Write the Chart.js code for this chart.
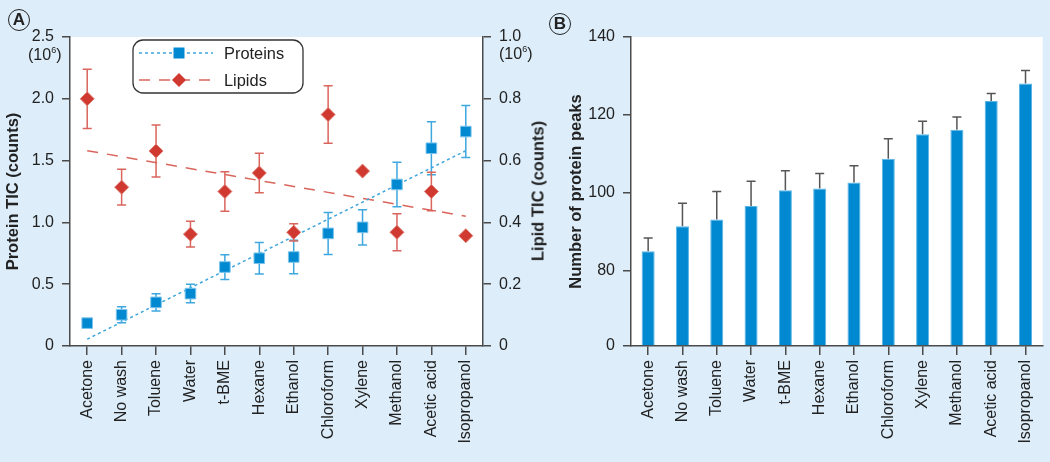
<!DOCTYPE html>
<html>
<head>
<meta charset="utf-8">
<script src="https://cdn.jsdelivr.net/npm/chart.js@4.4.1/dist/chart.umd.min.js"></script>
<style>
  html, body { margin: 0; padding: 0; background: #ddeefa; }
  #wrap { position: relative; width: 1050px; height: 462px; background: #ddeefa; font-family: "Liberation Sans", Arial, sans-serif; color: #222; }
  canvas { position: absolute; top: 0; }
  #ca { left: 0; }
  #cb { left: 555px; }
  .tag { position: absolute; width: 20px; height: 20px; border: 1.6px solid #222; border-radius: 50%;
         font-weight: bold; font-size: 17px; line-height: 20px; text-align: center; }
  .exp { position: absolute; font-size: 16px; }
  .exp sup { font-size: 9px; vertical-align: 7px; }
  #lipidTitle { position: absolute; left: 538px; top: 191px; font-weight: bold; font-size: 16.5px;
                white-space: nowrap; transform: translate(-50%, -50%) rotate(-90deg); }
</style>
</head>
<body>
<div id="wrap">
  <canvas id="ca" width="555" height="462"></canvas>
  <canvas id="cb" width="495" height="462"></canvas>
  <div class="tag" style="left:8px;top:9px;">A</div>
  <div class="tag" style="left:549px;top:13px;">B</div>
  <div class="exp" style="left:28px;top:45px;">(10<sup>6</sup>)</div>
  <div class="exp" style="left:499px;top:44px;">(10<sup>6</sup>)</div>
  <div id="lipidTitle">Lipid TIC (counts)</div>
</div>
<script>
const solvents = ["Acetone", "No wash", "Toluene", "Water", "t-BME", "Hexane", "Ethanol",
  "Chloroform", "Xylene", "Methanol", "Acetic acid", "Isopropanol"];

// panel A, protein TIC in 10^6 counts (left axis)
const proteinTIC = [0.185, 0.253, 0.353, 0.424, 0.639, 0.71, 0.72, 0.911, 0.96, 1.307, 1.60, 1.735];
const proteinErr = [0, 0.065, 0.07, 0.075, 0.10, 0.127, 0.135, 0.17, 0.143, 0.18, 0.215, 0.21];
// panel A, lipid TIC in 10^6 counts (right axis)
const lipidTIC = [0.80, 0.514, 0.631, 0.362, 0.50, 0.56, 0.368, 0.749, 0.566, 0.368, 0.50, 0.357];
const lipidErr = [0.096, 0.058, 0.084, 0.042, 0.064, 0.064, 0.028, 0.093, 0, 0.06, 0.062, 0];
// trend lines, value at first and last solvent
const proteinTrend = [0.055, 1.58];
const lipidTrend = [0.632, 0.42];

const proteinTicks = [0, 0.5, 1.0, 1.5, 2.0, 2.5];
const lipidTicks = [0, 0.2, 0.4, 0.6, 0.8, 1.0];

// panel B
const peaks = [85.1, 91.5, 93.2, 96.7, 100.7, 101.2, 102.7, 108.8, 115.1, 116.2, 123.6, 128.1];
const peaksErr = [3.4, 5.9, 7.2, 6.3, 5.0, 3.8, 4.3, 5.1, 3.3, 3.3, 1.9, 3.3];
const peakTicks = [0, 80, 100, 120, 140];
const peakBreak = 60.8; // broken axis: "0" sits at this value

const BLUE = "#0089d1", BLUE_LIGHT = "#3ea7de", RED = "#d0392f", RED_LIGHT = "#d9655c", AXIS = "#4a4a4a";
const FONT = "'Liberation Sans', Arial, sans-serif";
Chart.defaults.font.family = FONT;
Chart.defaults.color = "#222";

const plotBg = {
  id: "plotBg",
  beforeDraw(chart) {
    const a = chart.chartArea, ctx = chart.ctx;
    ctx.save();
    ctx.fillStyle = "#fff";
    ctx.fillRect(a.left, a.top, a.right - a.left, a.bottom - a.top);
    ctx.restore();
  }
};

const errorBars = {
  id: "errorBars",
  beforeDatasetsDraw(chart, args, opts) {
    const ctx = chart.ctx, xs = chart.scales.x;
    ctx.save();
    opts.sets.forEach(s => {
      const ys = chart.scales[s.axis];
      ctx.strokeStyle = s.color;
      ctx.lineWidth = 1.5;
      s.values.forEach((v, i) => {
        const e = s.errors[i];
        if (!e) return;
        const x = xs.getPixelForValue(i);
        const top = ys.getPixelForValue(v + e);
        const bot = ys.getPixelForValue(s.upOnly ? v : v - e);
        ctx.beginPath();
        ctx.moveTo(x, top); ctx.lineTo(x, bot);
        ctx.moveTo(x - 4.5, top); ctx.lineTo(x + 4.5, top);
        if (!s.upOnly) { ctx.moveTo(x - 4.5, bot); ctx.lineTo(x + 4.5, bot); }
        ctx.stroke();
      });
    });
    ctx.restore();
  }
};

const boxLegend = {
  id: "boxLegend",
  afterDraw(chart) {
    const ctx = chart.ctx, a = chart.chartArea;
    const L = a.left + 63, T = a.top + 3;
    ctx.save();
    ctx.beginPath();
    ctx.roundRect(L, T, 170, 53, 10);
    ctx.fillStyle = "#fff";
    ctx.fill();
    ctx.strokeStyle = "#333";
    ctx.lineWidth = 1.3;
    ctx.stroke();
    const rows = [
      { y: T + 13, text: "Proteins", color: BLUE_LIGHT, dash: [3, 3], mark: "rect", fill: BLUE },
      { y: T + 40, text: "Lipids", color: RED_LIGHT, dash: [11, 9], mark: "diamond", fill: RED }
    ];
    rows.forEach(r => {
      ctx.beginPath();
      ctx.setLineDash(r.dash);
      ctx.strokeStyle = r.color;
      ctx.lineWidth = 1.5;
      ctx.moveTo(L + 6, r.y); ctx.lineTo(L + 80, r.y);
      ctx.stroke();
      ctx.setLineDash([]);
      ctx.fillStyle = r.fill;
      const cx = L + 46;
      ctx.beginPath();
      if (r.mark === "rect") ctx.rect(cx - 5.5, r.y - 5.5, 11, 11);
      else { ctx.moveTo(cx, r.y - 7); ctx.lineTo(cx + 7, r.y); ctx.lineTo(cx, r.y + 7); ctx.lineTo(cx - 7, r.y); ctx.closePath(); }
      ctx.fill();
      ctx.fillStyle = "#222";
      ctx.font = "16.4px " + FONT;
      ctx.textBaseline = "middle";
      ctx.fillText(r.text, L + 91, r.y + 1);
    });
    ctx.restore();
  }
};

const fmt1 = v => (v === 0 ? "0" : Number(v).toFixed(1));
const yAxisCommon = {
  grid: { drawOnChartArea: false, drawTicks: true, tickLength: 8, color: AXIS, lineWidth: 1.5 },
  border: { display: true, color: AXIS, width: 1.5 },
  ticks: { color: "#222", font: { size: 16 }, padding: 8 }
};
const xAxisCommon = {
  type: "category",
  offset: true,
  grid: { drawOnChartArea: false, drawTicks: true, tickLength: 9, color: AXIS, lineWidth: 1.5, offset: false },
  border: { display: true, color: AXIS, width: 1.5 },
  ticks: { color: "#222", font: { size: 16 }, minRotation: 90, maxRotation: 90, padding: 5, autoSkip: false },
  afterFit: s => { s.height = 116; }
};

new Chart(document.getElementById("ca"), {
  type: "line",
  data: {
    labels: solvents,
    datasets: [
      { label: "Proteins", data: proteinTIC, yAxisID: "y", showLine: false, order: 0,
        pointStyle: "rect", pointRadius: 7.5, backgroundColor: BLUE, borderColor: "#7cc4ec", borderWidth: 1 },
      { label: "Lipids", data: lipidTIC, yAxisID: "y1", showLine: false, order: 0,
        pointStyle: "rectRot", pointRadius: 7, backgroundColor: RED, borderColor: "#e07d75", borderWidth: 1 },
      { label: "Protein trend", data: [{ x: solvents[0], y: proteinTrend[0] }, { x: solvents[solvents.length - 1], y: proteinTrend[1] }],
        yAxisID: "y", order: 1, pointRadius: 0, borderColor: BLUE_LIGHT, borderWidth: 1.5, borderDash: [3, 3] },
      { label: "Lipid trend", data: [{ x: solvents[0], y: lipidTrend[0] }, { x: solvents[solvents.length - 1], y: lipidTrend[1] }],
        yAxisID: "y1", order: 1, pointRadius: 0, borderColor: RED_LIGHT, borderWidth: 1.5, borderDash: [11, 9] }
    ]
  },
  options: {
    responsive: false,
    animation: false,
    layout: { padding: { top: 37, left: 0, right: 0, bottom: 0 } },
    plugins: {
      legend: { display: false },
      tooltip: { enabled: false },
      errorBars: { sets: [
        { axis: "y", values: proteinTIC, errors: proteinErr, color: BLUE_LIGHT },
        { axis: "y1", values: lipidTIC, errors: lipidErr, color: RED_LIGHT }
      ] }
    },
    scales: {
      x: xAxisCommon,
      y: { ...yAxisCommon, position: "left", min: 0, max: 2.5,
        afterBuildTicks: s => { s.ticks = proteinTicks.map(v => ({ value: v })); },
        ticks: { ...yAxisCommon.ticks, callback: v => fmt1(v) },
        title: { display: true, text: "Protein TIC (counts)", font: { size: 16.5, weight: "bold" }, color: "#222" },
        afterFit: s => { s.width = 70; } },
      y1: { ...yAxisCommon, position: "right", min: 0, max: 1.0,
        afterBuildTicks: s => { s.ticks = lipidTicks.map(v => ({ value: v })); },
        ticks: { ...yAxisCommon.ticks, callback: v => fmt1(v) },
        afterFit: s => { s.width = 72; } }
    }
  },
  plugins: [plotBg, errorBars, boxLegend]
});

new Chart(document.getElementById("cb"), {
  type: "bar",
  data: {
    labels: solvents,
    datasets: [{ label: "Protein peaks", data: peaks, base: peakBreak, backgroundColor: BLUE,
      borderColor: "#5cb6e6", borderWidth: { left: 1, right: 1, top: 1, bottom: 0 },
      barPercentage: 0.38, categoryPercentage: 1 }]
  },
  options: {
    responsive: false,
    animation: false,
    layout: { padding: { top: 37, left: 8, right: 7, bottom: 0 } },
    plugins: {
      legend: { display: false },
      tooltip: { enabled: false },
      errorBars: { sets: [{ axis: "y", values: peaks, errors: peaksErr, color: "#555", upOnly: true }] }
    },
    scales: {
      x: xAxisCommon,
      y: { ...yAxisCommon, position: "left", min: peakBreak, max: 140,
        afterBuildTicks: s => { s.ticks = peakTicks.map(v => ({ value: v === 0 ? peakBreak : v })); },
        ticks: { ...yAxisCommon.ticks, callback: v => (v <= peakBreak + 0.01 ? "0" : String(v)) },
        title: { display: true, text: "Number of protein peaks", font: { size: 16.5, weight: "bold" }, color: "#222" },
        afterFit: s => { s.width = 68; } }
    }
  },
  plugins: [plotBg, errorBars]
});
</script>
</body>
</html>
